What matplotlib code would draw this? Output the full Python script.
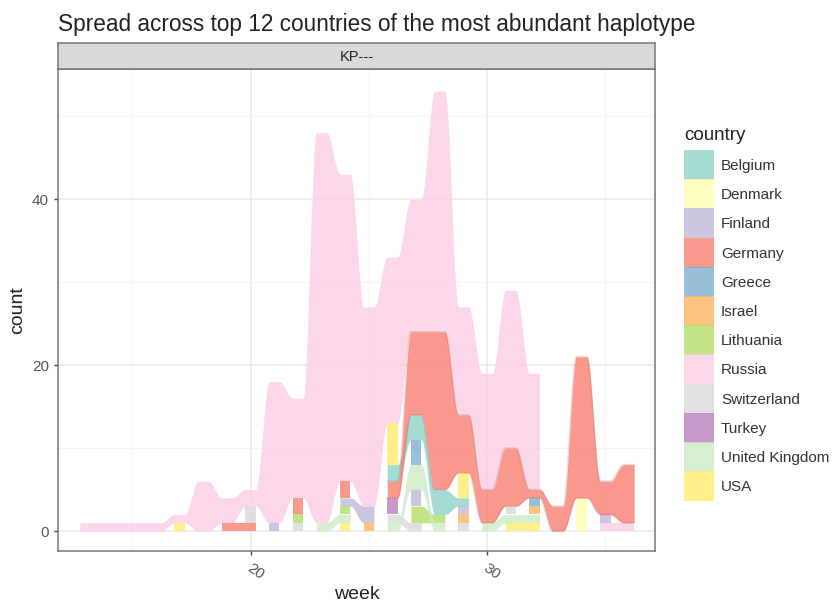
# Spread of the most abundant haplotype by country
import numpy as np
import matplotlib
matplotlib.use('Agg')
import matplotlib.pyplot as plt
from matplotlib.patches import Rectangle
from matplotlib.transforms import ScaledTranslation

plt.rcParams['font.family'] = ['Liberation Sans', 'DejaVu Sans']

countries = ['Belgium', 'Denmark', 'Finland', 'Germany', 'Greece', 'Israel', 'Lithuania',
             'Russia', 'Switzerland', 'Turkey', 'United Kingdom', 'USA']
colors = ['#8DD3C7', '#FFFFB3', '#BEBADA', '#FB8072', '#80B1D3', '#FDB462', '#B3DE69',
          '#FCCDE5', '#D9D9D9', '#BC80BD', '#CCEBC5', '#FFED6F']

# each run is a list of (week, lower, upper)
belgium = [[(26, 6, 8), (27, 11, 14), (28, 2, 5), (29, 3, 4)]]
denmark = [[(34, 0, 4)]]
finland = [[(21, 0, 1)], [(24, 3, 4), (25, 1, 3)], [(27, 3, 5)], [(29, 2, 3)], [(35, 1, 2)]]
germany = [[(19, 0, 1), (20, 0, 1)], [(22, 2, 4)], [(24, 4, 6)],
           [(26, 4, 6), (27, 14, 24), (28, 5, 24), (29, 7, 14), (30, 1, 5), (31, 3, 10),
            (32, 4, 5), (33, 0, 3), (34, 4, 21), (35, 2, 6), (36, 1, 8)]]
greece = [[(27, 8, 11)], [(32, 3, 4)]]
israel = [[(25, 0, 1)], [(29, 1, 2)], [(32, 2, 3)]]
lithuania = [[(22, 1, 2)], [(24, 2, 3)], [(27, 1, 3), (28, 1, 2)]]
russia = [[(13, 0, 1), (14, 0, 1), (15, 0, 1), (16, 0, 1), (17, 1, 2), (18, 0, 6), (19, 1, 4),
           (20, 3, 5), (21, 1, 18), (22, 4, 16), (23, 1, 48), (24, 6, 43), (25, 3, 27),
           (26, 13, 33), (27, 24, 40), (28, 24, 53), (29, 14, 27), (30, 5, 19), (31, 10, 29),
           (32, 5, 19)], [(35, 0, 1), (36, 0, 1)]]
switzerland = [[(20, 1, 3)], [(22, 0, 1)], [(26, 1, 2), (27, 0, 1)], [(29, 0, 1)], [(31, 2, 3)]]
turkey = [[(26, 2, 4)]]
uk = [[(23, 0, 1), (24, 1, 2)], [(26, 0, 1), (27, 5, 8), (28, 0, 1)], [(30, 0, 1), (31, 1, 2), (32, 1, 2)]]
usa = [[(17, 0, 1)], [(24, 0, 1)], [(26, 8, 13)], [(29, 4, 7)], [(31, 0, 1), (32, 0, 1)]]

runs = dict(zip(countries, [belgium, denmark, finland, germany, greece, israel, lithuania,
                            russia, switzerland, turkey, uk, usa]))
col = dict(zip(countries, colors))
# Russia sits behind everything else
draw_order = ['Russia'] + [c for c in countries if c != 'Russia']
pad = 0.22
ALPHA = 0.8


def ribbon(run):
    # flat around each week, eased between weeks
    xs, lo, hi = [], [], []
    for i, (w, a, b) in enumerate(run):
        xs += [w - pad, w + pad]
        lo += [a, a]
        hi += [b, b]
        if i < len(run) - 1:
            w2, a2, b2 = run[i + 1]
            t = np.linspace(0, 1, 30)[1:-1]
            s = t * t * (3 - 2 * t)
            xs += list(w + pad + t * (w2 - w - 2 * pad))
            lo += list(a + s * (a2 - a))
            hi += list(b + s * (b2 - b))
    return xs, lo, hi


W, H = 839, 607
fig = plt.figure(figsize=(W / 100, H / 100), dpi=100)
ax = fig.add_axes([58 / W, 1 - 551 / H, 597 / W, 482 / H])
ax.set_xlim(11.86, 37.10)
ax.set_ylim(-2.4, 55.66)

ax.set_axisbelow(True)
ax.set_xticks([20, 30])
ax.set_yticks([0, 20, 40])
ax.set_xticks([15, 25, 35], minor=True)
ax.set_yticks([10, 30, 50], minor=True)
ax.grid(which='major', color='#EBEBEB', lw=1.1)
ax.grid(which='minor', color='#F2F2F2', lw=0.6)
ax.tick_params(which='minor', length=0)
ax.tick_params(which='major', length=3, width=1, color='#444444', labelcolor='#555555', labelsize=11)
ax.tick_params(axis='x', pad=4)
shift = ScaledTranslation(5 / 100, 0, fig.dpi_scale_trans)
for label in ax.get_xticklabels():
    label.set_rotation(-35)
    label.set_ha('center')
    label.set_transform(label.get_transform() + shift)
for s in ax.spines.values():
    s.set_color('#777777')
    s.set_linewidth(1.1)

for c in draw_order:
    for run in runs[c]:
        xs, lo, hi = ribbon(run)
        ax.fill_between(xs, lo, hi, color=col[c], alpha=ALPHA, lw=0)
        if c == 'Germany' and len(run) > 2:
            # soft darker rim on the big Germany band
            ax.plot(xs, lo, color='#B5766E', lw=1.2, alpha=0.25)
            ax.plot(xs, hi, color='#B5766E', lw=1.2, alpha=0.25)

ax.set_xlabel('week', fontsize=14, color='#222222', labelpad=3)
ax.set_ylabel('count', fontsize=14, color='#222222', labelpad=4)

# facet strip
strip = fig.add_axes([58 / W, 1 - 69 / H, 597 / W, 26 / H])
strip.set_facecolor('#D9D9D9')
strip.set_xticks([])
strip.set_yticks([])
for s in strip.spines.values():
    s.set_color('#777777')
    s.set_linewidth(1.1)
strip.text(0.5, 0.45, 'KP---', ha='center', va='center', fontsize=10.5, color='#222222',
           transform=strip.transAxes)

fig.text(58 / W, 1 - 24 / H, 'Spread across top 12 countries of the most abundant haplotype',
         fontsize=16.3, color='#222222', va='center', ha='left')

# legend
fig.text(684 / W, 1 - 135 / H, 'country', fontsize=13.5, color='#222222', va='center', ha='left')
for i, c in enumerate(countries):
    top = 150 + i * 29.2
    fig.add_artist(Rectangle((684 / W, 1 - (top + 29) / H), 29 / W, 29 / H, facecolor=col[c],
                             edgecolor=col[c], alpha=ALPHA, lw=0.6, transform=fig.transFigure))
    fig.text(721 / W, 1 - (top + 16) / H, c, fontsize=11, color='#333333', va='center', ha='left')

fig.savefig('out.png', dpi=100)
